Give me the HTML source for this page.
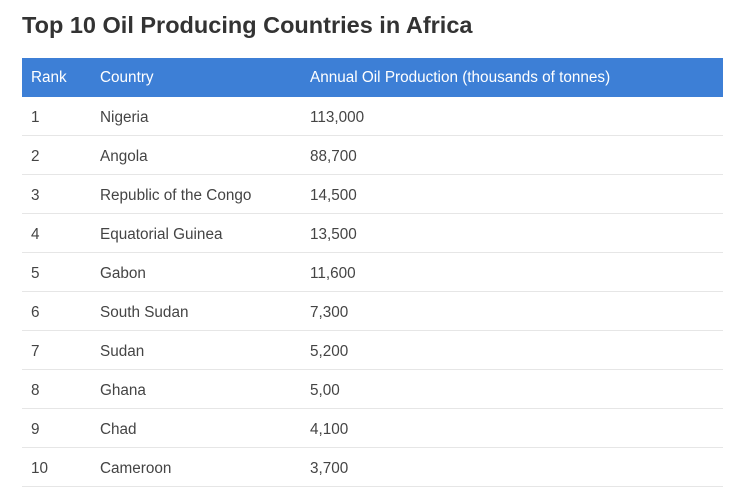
<!DOCTYPE html>
<html><head><meta charset="utf-8"><style>
body{margin:0;width:740px;height:502px;background:#fff;font-family:"Liberation Sans",sans-serif;overflow:hidden;position:relative}
h1{position:absolute;left:22px;top:12px;margin:0;font-size:23.5px;font-weight:bold;color:#333;letter-spacing:0}
table{position:absolute;left:22px;top:58px;width:701px;border-collapse:collapse;font-size:15.3px;color:#444}
th{background:#3d7fd6;color:#fff;font-weight:normal;text-align:left;height:39px;padding:0}
td{height:35px;padding:3px 0 0 0;border-bottom:1px solid #e6e6e6}
.c1{padding-left:9px;width:69px}.c2{width:210px}
</style></head><body>
<h1>Top 10 Oil Producing Countries in Africa</h1>
<table>
<thead><tr><th class="c1">Rank</th><th class="c2">Country</th><th>Annual Oil Production (thousands of tonnes)</th></tr></thead>
<tbody id="tb"></tbody></table>
<script>
const countries=["Nigeria","Angola","Republic of the Congo","Equatorial Guinea","Gabon","South Sudan","Sudan","Ghana","Chad","Cameroon"];
const production=["113,000","88,700","14,500","13,500","11,600","7,300","5,200","5,00","4,100","3,700"];
const tb=document.getElementById('tb');
countries.forEach((c,i)=>{
const tr=document.createElement('tr');


[String(i+1),c,production[i]].forEach((v,j)=>{
const td=document.createElement('td');
td.textContent=v;
if(j===0)td.className='c1';if(j===1)td.className='c2';


tr.appendChild(td);});
tb.appendChild(tr);});
</script>
</body></html>
